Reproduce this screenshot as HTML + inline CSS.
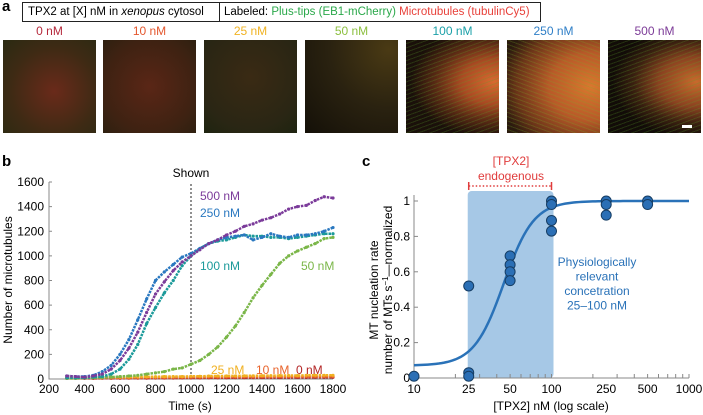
<!DOCTYPE html>
<html><head><meta charset="utf-8"><style>
body{margin:0;width:703px;height:415px;background:#fff;overflow:hidden;font-family:"Liberation Sans",sans-serif;position:relative}
.img{position:absolute;top:40px;width:93px;height:93px}
.lab{position:absolute;top:24px;width:93px;text-align:center;font-size:12px}
text{font-family:"Liberation Sans",sans-serif}
.hd span{white-space:nowrap}
</style></head><body>
<div style="position:absolute;left:2px;top:-2px;font-weight:bold;font-size:15px">a</div>
<div class="hd" style="position:absolute;left:22px;top:2px;width:517px;height:18px;border:1px solid #222;font-size:11.5px;line-height:18px;white-space:nowrap">
<span style="position:absolute;left:5px">TPX2 at [X] nM in <i>xenopus</i> cytosol</span>
<span style="position:absolute;left:196px;top:0;height:18px;border-left:1px solid #222"></span>
<span style="position:absolute;left:201px">Labeled: <span style="color:#2aa84a">Plus-tips (EB1-mCherry)</span> <span style="color:#e8413a">Microtubules (tubulinCy5)</span></span>
</div>
<div class="lab" style="left:3px;color:#b5283b">0 nM</div>
<div class="lab" style="left:103px;color:#e4572e">10 nM</div>
<div class="lab" style="left:204px;color:#f0b323">25 nM</div>
<div class="lab" style="left:305px;color:#8cbf3f">50 nM</div>
<div class="lab" style="left:406px;color:#1aa0a8">100 nM</div>
<div class="lab" style="left:507px;color:#2f7fc7">250 nM</div>
<div class="lab" style="left:608px;color:#7d3c98">500 nM</div>
<div class="img" style="left:3px;background:radial-gradient(circle at 55% 55%,#6a2a1a,#3e2a14 60%,#2a2a12)"></div>
<div class="img" style="left:103px;background:radial-gradient(circle at 50% 50%,#5a2616,#3e2212 70%,#2e2010)"></div>
<div class="img" style="left:204px;background:radial-gradient(circle at 50% 40%,#3a2a14,#2a2614 70%,#1e2410)"></div>
<div class="img" style="left:305px;background:radial-gradient(circle at 90% 10%,#4a3a14,#2a2210 50%,#141008)"></div>
<div class="img" style="left:406px;background:repeating-linear-gradient(160deg,rgba(0,0,0,0) 0 3px,rgba(90,160,40,.25) 3px 4px),radial-gradient(ellipse 90% 60% at 95% 45%,#d86a30,#a84a22 40%,#5a2a14 70%,#1a100a)"></div>
<div class="img" style="left:507px;background:repeating-linear-gradient(20deg,rgba(0,0,0,0) 0 3px,rgba(120,170,40,.25) 3px 4px),radial-gradient(ellipse 100% 80% at 90% 50%,#d8782e,#b85a28 45%,#6a3418 80%,#2a1a0e)"></div>
<div class="img" style="left:608px;background:repeating-linear-gradient(160deg,rgba(0,0,0,0) 0 3px,rgba(90,160,40,.25) 3px 4px),radial-gradient(ellipse 90% 60% at 95% 45%,#c86a2c,#8a4220 45%,#3a2010 75%,#120c08)"></div>
<div style="position:absolute;left:682px;top:125px;width:10px;height:3px;background:#fff"></div>

<svg id="chb" width="703" height="415" style="position:absolute;left:0;top:0"></svg>
<script>
const times=[300,350,400,450,500,550,600,650,700,750,800,850,900,950,1000,1050,1100,1150,1200,1250,1300,1350,1400,1450,1500,1550,1600,1650,1700,1750,1800];
const s500=[25,20,15,25,40,80,150,250,380,540,690,790,880,950,1000,1050,1100,1130,1170,1200,1240,1260,1290,1310,1340,1380,1400,1410,1450,1480,1470];
const s250=[25,20,20,30,60,110,200,320,480,650,800,870,930,990,1020,1060,1100,1130,1150,1160,1170,1130,1150,1180,1160,1150,1170,1170,1180,1200,1230];
const s100=[10,10,10,15,20,40,80,160,280,450,580,700,800,920,1000,1060,1100,1120,1130,1150,1170,1160,1160,1150,1150,1140,1150,1160,1170,1180,1180];
const s50=[5,5,8,10,12,15,20,25,30,40,50,60,80,90,120,150,200,260,340,430,540,660,760,850,940,1000,1040,1070,1100,1140,1150];
const s25=[10,10,12,12,14,15,15,16,17,18,18,20,20,20,22,22,24,24,25,25,26,26,27,27,28,28,28,30,30,30,30];
const s10=[8,8,8,9,9,10,10,11,11,12,12,12,13,13,14,14,15,15,16,16,17,17,18,18,18,19,19,20,20,20,20];
const s0=[5,5,5,5,6,6,6,7,7,7,8,8,8,9,9,9,10,10,10,11,11,11,12,12,12,13,13,13,14,14,14];
const bTicksX=[200,400,600,800,1000,1200,1400,1600,1800];
const bTicksY=[0,200,400,600,800,1000,1200,1400,1600];
const cX=[10,25,25,25,50,50,50,50,100,100,100,100,250,250,250,500,500];
const cY=[0.01,0.52,0.03,0.01,0.69,0.64,0.6,0.55,1.0,0.98,0.89,0.83,1.0,0.98,0.92,1.0,0.98];
const cFit=[0.07,45,4]; // baseline, K, n
const cTicksX=[10,25,50,100,250,500,1000];
const cTicksY=[0,0.2,0.4,0.6,0.8,1];
const NS="http://www.w3.org/2000/svg";
const svg=document.getElementById('chb');
function el(tag,attrs,txt){const e=document.createElementNS(NS,tag);for(const k in attrs)e.setAttribute(k,attrs[k]);if(txt!==undefined)e.textContent=txt;svg.appendChild(e);return e;}
const bx=t=>49+(t-200)/1600*284, by=v=>379-v/1600*197;
let e;
e=el('text',{x:2,y:166,'font-size':15,'font-weight':'bold'},'b');


e=el('path',{d:`M49,${by(1600)}V379H${bx(1800)}`,stroke:'#888',fill:'none'});


bTicksX.forEach(t=>{e=el('text',{x:bx(t),y:393,'font-size':12,'text-anchor':'middle'},t);

});
bTicksY.forEach(v=>{e=el('text',{x:44,y:by(v)+4,'font-size':12,'text-anchor':'end'},v);


e=el('line',{x1:49,x2:52,y1:by(v),y2:by(v),stroke:'#888'});

});
e=el('text',{x:190,y:410,'font-size':12,'text-anchor':'middle'},'Time (s)');


e=el('text',{x:0,y:0,'font-size':12,'text-anchor':'middle',transform:'translate(12,280) rotate(-90)'},'Number of microtubules');


e=el('line',{x1:bx(1000),x2:bx(1000),y1:184,y2:379,stroke:'#222','stroke-dasharray':'2 2'});


e=el('text',{x:191,y:177,'font-size':12,'text-anchor':'middle'},'Shown');


const series=[[s0,'#b32525','series-0nM'],[s10,'#e8632b','series-10nM'],[s25,'#f0b020','series-25nM'],[s50,'#7ab648','series-50nM'],[s100,'#1b9a9a','series-100nM'],[s250,'#2a78c0','series-250nM'],[s500,'#7b3b9a','series-500nM']];
series.forEach(([d,c,n])=>{
 e=el('polyline',{points:d.map((v,i)=>bx(times[i])+','+by(v)).join(' '),fill:'none',stroke:c,'stroke-width':2.5,'stroke-dasharray':'2.5 1'});
 
 
 d.forEach((v,i)=>{e=el('circle',{cx:bx(times[i]),cy:by(v),r:1.6,fill:c});
 
 });
});
[['500 nM',200,200,'#7b3b9a'],['250 nM',200,217,'#2a78c0'],['100 nM',200,270,'#1b9a9a'],['50 nM',301,270,'#7ab648'],['25 nM',211,374,'#f0b020'],['10 nM',256,374,'#e8632b'],['0 nM',296,374,'#b32525']].forEach(([t,x,y,c])=>{
 e=el('text',{x:x,y:y,'font-size':12,fill:c},t);
 
 });

// panel c
const cx=v=>414+Math.log10(v/10)/2*275, cy=v=>378-v*177;
e=el('text',{x:362,y:166,'font-size':15,'font-weight':'bold'},'c');


e=el('rect',{x:cx(25)-1,y:191,width:cx(100)-cx(25)+3,height:378-191,rx:4,fill:'#a6c8e6'});


e=el('path',{d:`M414,${cy(1)-6}V378H${cx(1000)}`,stroke:'#888',fill:'none'});


cTicksY.forEach(v=>{e=el('text',{x:410,y:cy(v)+4,'font-size':12,'text-anchor':'end'},v);


e=el('line',{x1:414,x2:418,y1:cy(v),y2:cy(v),stroke:'#888'});

});
cTicksX.forEach(v=>{e=el('text',{x:cx(v),y:393,'font-size':12,'text-anchor':'middle'},v);

});
[10,20,30,40,50,60,70,80,90,100,200,300,400,500,600,700,800,900,1000].forEach(v=>{e=el('line',{x1:cx(v),x2:cx(v),y1:378,y2:374,stroke:'#888'});

});
e=el('text',{x:551,y:410,'font-size':12,'text-anchor':'middle'},'[TPX2] nM (log scale)');


e=el('text',{x:0,y:0,'font-size':12,'text-anchor':'middle',transform:'translate(378,290) rotate(-90)'},'MT nucleation rate');


e=el('text',{x:0,y:0,'font-size':12,'text-anchor':'middle',transform:'translate(392,290) rotate(-90)'});
e.innerHTML='number of MTs s<tspan dy="-4" font-size="8">−1</tspan><tspan dy="4">—normalized</tspan>';


let pts=[];for(let lv=1;lv<=3.0001;lv+=0.02){const v=Math.pow(10,lv);const h=Math.pow(v/cFit[1],cFit[2]);pts.push(cx(v)+','+cy(cFit[0]+(1-cFit[0])*h/(1+h)));}
e=el('polyline',{points:pts.join(' '),fill:'none',stroke:'#2a72b8','stroke-width':2.5});


cX.forEach((v,i)=>{e=el('circle',{cx:cx(v),cy:cy(cY[i]),r:5,fill:'#2b6fb5',stroke:'#163d63','stroke-width':1});

});
e=el('path',{d:`M${cx(25)},182V190M${cx(100)},182V190`,stroke:'#e03c3c','stroke-width':1.5});


e=el('line',{x1:cx(25),x2:cx(100),y1:186,y2:186,stroke:'#e03c3c','stroke-width':1.5,'stroke-dasharray':'1.5 2'});


e=el('text',{x:511,y:165,'font-size':12,fill:'#e03c3c','text-anchor':'middle'},'[TPX2]');


e=el('text',{x:511,y:180,'font-size':12,fill:'#e03c3c','text-anchor':'middle'},'endogenous');


['Physiologically','relevant','concetration','25–100 nM'].forEach((t,i)=>{e=el('text',{x:597,y:266+i*14.5,'font-size':12,fill:'#2a72b8','text-anchor':'middle'},t);

});
</script>
</body></html>
